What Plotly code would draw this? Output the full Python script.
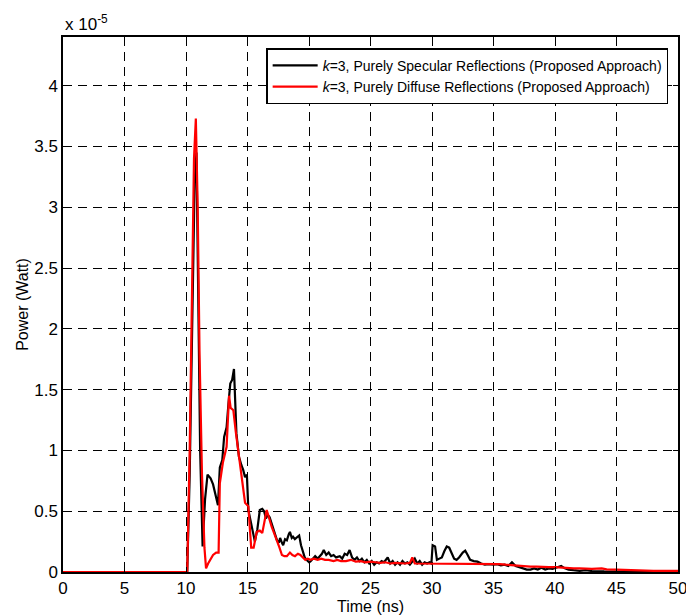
import plotly.graph_objects as go

# Received optical power impulse responses (values in units of 1e-5 W)
time_specular = [
    0, 10.1, 10.3, 10.5, 10.7, 10.85, 11.0, 11.15, 11.35, 11.55, 11.75, 12.0, 12.2, 12.4, 12.6,
    12.75, 12.95, 13.1, 13.3, 13.45, 13.6, 13.75, 13.9, 14.1, 14.3, 14.5, 14.65, 14.8, 14.95,
    15.07, 15.2, 15.35, 15.5, 15.6, 15.8, 16.0, 16.2, 16.35, 16.5, 16.65, 16.8, 16.95, 17.1,
    17.25, 17.4, 17.55, 17.65, 17.8, 17.9, 18.05, 18.2, 18.35, 18.45, 18.6, 18.7, 18.85, 19.0,
    19.2, 19.35, 19.5, 19.65, 19.8, 20.0, 20.1, 20.3, 20.5, 20.7, 20.9, 21.05, 21.2, 21.4, 21.6,
    21.8, 22.0, 22.2, 22.5, 22.7, 22.9, 23.1, 23.3, 23.5, 23.7, 23.9, 24.1, 24.3, 24.5, 24.7,
    24.9, 25.1, 25.3, 25.5, 25.7, 25.9, 26.1, 26.4, 26.6, 26.8, 27.0, 27.2, 27.4, 27.6, 27.8,
    28.0, 28.2, 28.4, 28.6, 28.8, 29.0, 29.2, 29.4, 29.6, 29.8, 29.95, 30.05, 30.25, 30.4, 30.6,
    30.8, 31.0, 31.2, 31.4, 31.6, 31.8, 32.0, 32.2, 32.5, 32.7, 32.9, 33.1, 33.4, 33.7, 34.0,
    34.3, 34.6, 35.0, 35.3, 35.6, 35.9, 36.2, 36.5, 36.8, 37.1, 37.4, 37.7, 38.0, 38.3, 38.6,
    38.9, 39.2, 39.5, 39.8, 40.1, 40.5, 40.8, 41.1, 41.5, 42.0, 42.5, 43.0, 44.0, 45.0, 46.0,
    47.0, 48.0, 49.0, 50.0,
]
power_specular = [
    0, 0, 0.8, 2.0, 3.2, 3.45, 2.4, 1.0, 0.21, 0.6, 0.8, 0.77, 0.72, 0.64, 0.55,
    0.86, 0.92, 1.11, 1.19, 1.38, 1.55, 1.58, 1.67, 1.14, 0.95, 0.88, 0.84, 0.78, 0.80,
    0.51, 0.45, 0.36, 0.30, 0.25, 0.35, 0.51, 0.52, 0.50, 0.44, 0.47, 0.45, 0.40, 0.34,
    0.31, 0.26, 0.24, 0.28, 0.24, 0.22, 0.27, 0.26, 0.31, 0.33, 0.28, 0.29, 0.27, 0.28,
    0.30, 0.22, 0.16, 0.12, 0.10, 0.08, 0.085, 0.11, 0.13, 0.11, 0.13, 0.15, 0.18, 0.14, 0.16,
    0.13, 0.14, 0.12, 0.13, 0.11, 0.15, 0.14, 0.18, 0.12, 0.10, 0.12, 0.09, 0.11, 0.08, 0.10,
    0.07, 0.09, 0.06, 0.08, 0.07, 0.09, 0.08, 0.12, 0.07, 0.09, 0.06, 0.08, 0.06, 0.09, 0.07,
    0.08, 0.06, 0.09, 0.11, 0.07, 0.09, 0.06, 0.08, 0.07, 0.08, 0.07, 0.22, 0.21, 0.10, 0.11,
    0.12, 0.17, 0.21, 0.20, 0.15, 0.11, 0.10, 0.12, 0.16, 0.175, 0.14, 0.10, 0.09, 0.085, 0.07,
    0.06, 0.065, 0.06, 0.065, 0.055, 0.06, 0.05, 0.08, 0.05, 0.04, 0.03, 0.02, 0.02, 0.03, 0.02,
    0.035, 0.02, 0.03, 0.025, 0.035, 0.05, 0.03, 0.02, 0.015, 0.01, 0.015, 0.008, 0.005, 0.004, 0.004,
    0.003, 0.003, 0.002, 0.002,
]

time_diffuse = [
    0, 10.1, 10.3, 10.5, 10.65, 10.8, 10.95, 11.1, 11.3, 11.5, 11.63, 11.8, 12.0, 12.2, 12.45,
    12.65, 12.75, 13.0, 13.3, 13.5, 13.63, 13.85, 14.05, 14.25, 14.5, 14.8, 15.07, 15.3, 15.5,
    15.75, 16.0, 16.2, 16.56, 16.75, 16.97, 17.2, 17.4, 17.6, 17.8, 18.0, 18.2, 18.45, 18.65,
    18.86, 19.1, 19.3, 19.5, 19.7, 19.9, 20.1, 20.4, 20.7, 21.0, 21.3, 21.6, 22.0, 22.3, 22.6,
    23.0, 23.4, 23.8, 24.2, 24.6, 25.0, 25.4, 25.8, 26.2, 26.6, 27.0, 27.4, 27.8, 28.2, 28.4,
    28.6, 29.0, 29.5, 30.0, 30.5, 31.0, 31.5, 32.0, 32.5, 33.0, 33.5, 34.0, 34.5, 35.0, 35.5,
    36.0, 36.5, 37.0, 37.5, 38.0, 38.5, 39.0, 39.5, 40.0, 40.5, 41.0, 41.5, 42.0, 42.5, 43.0,
    43.8, 44.2, 45.0, 46.0, 46.5, 47.0, 48.0, 49.0, 50.0,
]
power_diffuse = [
    0, 0, 1.0, 2.4, 3.4, 3.73, 3.0, 1.8, 0.8, 0.2, 0.03, 0.07, 0.11, 0.14, 0.16,
    0.16, 0.73, 0.90, 1.03, 1.45, 1.35, 1.33, 1.15, 1.0, 0.78, 0.57, 0.54, 0.20, 0.20,
    0.33, 0.34, 0.32, 0.51, 0.44, 0.37, 0.31, 0.26, 0.20, 0.14, 0.13, 0.13, 0.16, 0.14,
    0.13, 0.15, 0.14, 0.12, 0.10, 0.11, 0.10, 0.11, 0.10, 0.11, 0.10, 0.10, 0.09, 0.10, 0.09,
    0.09, 0.10, 0.085, 0.09, 0.08, 0.085, 0.08, 0.075, 0.08, 0.07, 0.075, 0.07, 0.07, 0.075, 0.12,
    0.07, 0.07, 0.065, 0.065, 0.07, 0.07, 0.07, 0.07, 0.07, 0.07, 0.068, 0.068, 0.07, 0.068, 0.065,
    0.06, 0.055, 0.05, 0.05, 0.045, 0.045, 0.04, 0.04, 0.04, 0.035, 0.035, 0.03, 0.03, 0.028, 0.025,
    0.03, 0.022, 0.02, 0.016, 0.01, 0.01, 0.01, 0.01, 0.01,
]

x_ticks = [0, 5, 10, 15, 20, 25, 30, 35, 40, 45, 50]
y_ticks = [0, 0.5, 1, 1.5, 2, 2.5, 3, 3.5, 4]
y_tick_labels = ["0", "0.5", "1", "1.5", "2", "2.5", "3", "3.5", "4"]

FONT = "Liberation Sans, Arial, sans-serif"

fig = go.Figure()
fig.add_trace(go.Scatter(
    x=time_specular, y=power_specular, mode="lines",
    line=dict(color="black", width=2.2),
    name="<i>k</i>=3, Purely Specular Reflections (Proposed Approach)",
))
fig.add_trace(go.Scatter(
    x=time_diffuse, y=power_diffuse, mode="lines",
    line=dict(color="#ff0000", width=2.2),
    name="<i>k</i>=3, Purely Diffuse Reflections (Proposed Approach)",
))

axis_common = dict(
    showline=True, linecolor="black", linewidth=1.5, mirror="ticks",
    ticks="inside", ticklen=5, tickcolor="black",
    showgrid=True, gridcolor="black", gridwidth=1, griddash="9px,6px",
    zeroline=False, tickfont=dict(family=FONT, size=17, color="black"),
    automargin=False, ticklabeloverflow="allow",
)

fig.update_xaxes(
    range=[0, 50], tickvals=x_ticks,
    title=dict(text="Time (ns)", font=dict(family=FONT, size=16, color="black"), standoff=2),
    **axis_common,
)
fig.update_yaxes(
    range=[0, 4.4], tickvals=y_ticks, ticktext=y_tick_labels,
    title=dict(text="Power (Watt)", font=dict(family=FONT, size=16, color="black"), standoff=2),
    **axis_common,
)

fig.add_annotation(
    text="x 10<sup>-5</sup>", xref="paper", yref="paper", x=0, y=1.0,
    xanchor="left", yanchor="bottom", showarrow=False, yshift=1,
    font=dict(family=FONT, size=17, color="black"),
)

fig.update_layout(
    width=686, height=616,
    margin=dict(l=63, r=8, t=37, b=44),
    plot_bgcolor="white", paper_bgcolor="white",
    font=dict(family=FONT, color="black"),
    legend=dict(
        x=0.984, y=0.979, xanchor="right", yanchor="top",
        bgcolor="white", bordercolor="black", borderwidth=1.5,
        font=dict(family=FONT, size=14, color="black"),
        tracegroupgap=0, itemwidth=45,
    ),
)

fig.write_html("out.html")
